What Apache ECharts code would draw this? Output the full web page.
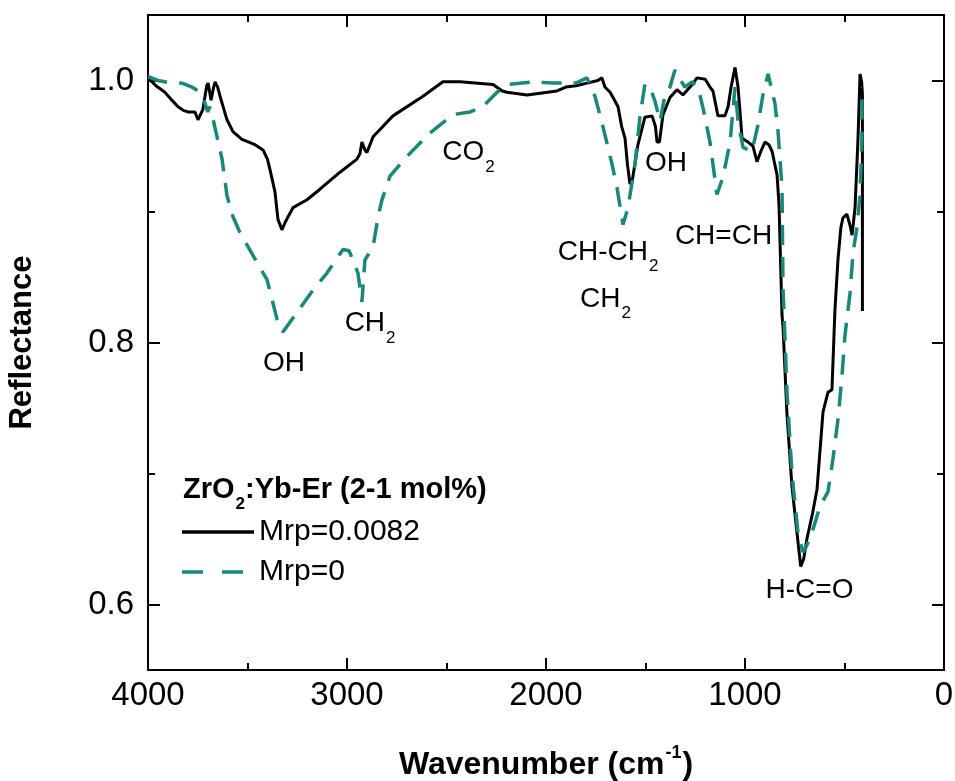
<!DOCTYPE html>
<html>
<head>
<meta charset="utf-8">
<title>ZrO2:Yb-Er reflectance spectra</title>
<script src="https://cdn.jsdelivr.net/npm/echarts@6/dist/echarts.min.js"></script>
<style>
  html, body { margin: 0; padding: 0; background: #ffffff; }
  #chart { width: 955px; height: 781px; }
</style>
</head>
<body>
<div id="chart"></div>
<script>
// Wavenumber (cm-1) and reflectance for the sample with Mrp = 0.0082
const wnMrp0082 = [4000, 3960, 3915, 3880, 3849, 3820, 3799, 3764, 3749, 3724, 3705, 3698, 3683, 3670, 3663, 3650, 3638, 3603, 3573, 3528, 3462, 3422, 3400, 3387, 3362, 3347, 3327, 3310, 3271, 3201, 3136, 3035, 2950, 2935, 2925, 2910, 2900, 2869, 2769, 2618, 2518, 2432, 2266, 2220, 2196, 2095, 1945, 1900, 1850, 1794, 1740, 1719, 1704, 1678, 1663, 1638, 1620, 1603, 1590, 1578, 1565, 1538, 1503, 1467, 1450, 1442, 1430, 1412, 1377, 1342, 1312, 1276, 1241, 1200, 1176, 1161, 1136, 1101, 1085, 1070, 1050, 1035, 1025, 1015, 985, 960, 940, 920, 900, 880, 864, 839, 829, 814, 809, 789, 764, 739, 720, 705, 689, 660, 638, 608, 583, 563, 548, 533, 518, 508, 488, 470, 462, 447, 432, 422, 414, 410, 410];
const refMrp0082 = [1.002, 0.996, 0.991, 0.985, 0.980, 0.977, 0.976, 0.976, 0.970, 0.978, 0.996, 0.998, 0.985, 0.995, 0.999, 0.995, 0.988, 0.970, 0.961, 0.955, 0.951, 0.947, 0.940, 0.932, 0.915, 0.894, 0.886, 0.892, 0.903, 0.909, 0.917, 0.930, 0.940, 0.944, 0.953, 0.947, 0.945, 0.957, 0.973, 0.988, 0.999, 0.999, 0.997, 0.992, 0.991, 0.989, 0.992, 0.995, 0.996, 0.998, 1.000, 1.002, 0.995, 0.991, 0.987, 0.980, 0.965, 0.956, 0.935, 0.921, 0.925, 0.951, 0.972, 0.973, 0.965, 0.953, 0.953, 0.974, 0.987, 0.993, 0.989, 0.995, 1.002, 1.001, 0.995, 0.992, 0.973, 0.973, 0.980, 0.995, 1.010, 0.995, 0.976, 0.956, 0.953, 0.950, 0.938, 0.946, 0.953, 0.951, 0.946, 0.928, 0.905, 0.821, 0.812, 0.745, 0.690, 0.655, 0.629, 0.635, 0.650, 0.670, 0.688, 0.747, 0.762, 0.764, 0.825, 0.863, 0.888, 0.895, 0.898, 0.888, 0.882, 0.903, 0.956, 1.005, 0.999, 0.990, 0.824];

// Wavenumber (cm-1) and reflectance for the sample with Mrp = 0
const wnMrp0 = [4000, 3950, 3915, 3829, 3779, 3739, 3714, 3700, 3690, 3680, 3653, 3628, 3603, 3573, 3538, 3452, 3402, 3352, 3322, 3261, 3171, 3101, 3020, 2990, 2970, 2945, 2925, 2910, 2869, 2844, 2824, 2784, 2699, 2583, 2467, 2382, 2317, 2246, 2196, 2065, 1965, 1850, 1794, 1754, 1714, 1668, 1643, 1613, 1588, 1553, 1528, 1503, 1477, 1452, 1427, 1402, 1377, 1352, 1327, 1302, 1266, 1236, 1211, 1176, 1161, 1141, 1111, 1075, 1050, 1035, 1010, 965, 935, 910, 884, 849, 834, 814, 809, 789, 764, 734, 709, 690, 663, 623, 583, 558, 533, 513, 498, 472, 457, 437, 422, 412, 412];
const refMrp0 = [1.003, 1.000, 0.999, 0.998, 0.995, 0.991, 0.983, 0.976, 0.980, 0.975, 0.957, 0.940, 0.912, 0.896, 0.884, 0.861, 0.848, 0.818, 0.808, 0.821, 0.840, 0.853, 0.871, 0.870, 0.863, 0.853, 0.831, 0.863, 0.873, 0.896, 0.909, 0.927, 0.942, 0.960, 0.974, 0.976, 0.980, 0.991, 0.997, 0.999, 0.998, 0.998, 1.002, 0.988, 0.965, 0.936, 0.918, 0.890, 0.903, 0.936, 0.972, 0.997, 0.995, 0.984, 0.969, 0.989, 0.995, 1.008, 1.001, 0.995, 0.999, 0.995, 0.979, 0.953, 0.936, 0.913, 0.926, 0.953, 0.995, 0.969, 0.949, 0.946, 0.966, 0.989, 1.005, 0.982, 0.961, 0.918, 0.842, 0.762, 0.700, 0.655, 0.640, 0.645, 0.655, 0.675, 0.686, 0.711, 0.741, 0.774, 0.805, 0.838, 0.869, 0.888, 0.913, 0.956, 0.995];

// Band assignments written on the spectra
const bandText = ['OH', '{t|CH}{s|2}', '{t|CO}{s|2}', '{t|CH-CH}{s|2}', '{t|CH}{s|2}', 'OH', 'CH=CH', 'H-C=O'];
const bandWn = [3317, 2884, 2389, 1688, 1701, 1397, 1108, 676];
const bandRef = [0.784, 0.8145, 0.945, 0.869, 0.833, 0.937, 0.881, 0.611];

// Axis ranges and ticks
const xMin = 0, xMax = 4000;
const xMajor = [0, 1000, 2000, 3000, 4000];
const xMinor = [500, 1500, 2500, 3500];
const yMin = 0.55, yMax = 1.05;
const yMajor = [0.6, 0.8, 1.0];
const yMinor = [0.7, 0.9];

const seriesNames = ['Mrp=0.0082', 'Mrp=0'];
const sampleTitle = '{b|ZrO}{s|2}{b|:Yb-Er (2-1 mol%)}';

const FONT = '"Liberation Sans", Arial, Helvetica, sans-serif';
const TEAL = '#17897b';

const zip = (xs, ys) => xs.map((x, i) => [x, ys[i]]);

// Rich text with a lowered subscript: padding keeps the subscript below the main baseline
const subRich = (size, weight) => ({
  t: { fontSize: size, fontWeight: weight, fontFamily: FONT, color: '#000', lineHeight: 28, padding: [9, 0, 9, 0] },
  b: { fontSize: size, fontWeight: weight, fontFamily: FONT, color: '#000', lineHeight: 28, padding: [9, 0, 9, 0] },
  s: { fontSize: 17, fontWeight: weight, fontFamily: FONT, color: '#000', lineHeight: 17, padding: [29, 0, 0, 1] }
});

const chart = echarts.init(document.getElementById('chart'), null, { renderer: 'canvas' });

const axisLineStyle = { color: '#000', width: 2 };

// Wavenumber axis: runs from 4000 down to 0 and carries the labels and the title
const xMain = {
  type: 'value', min: xMin, max: xMax, inverse: true, position: 'bottom',
  axisLine: { show: true, onZero: false, lineStyle: axisLineStyle },
  axisTick: { show: false },
  axisLabel: {
    show: true, customValues: xMajor, fontSize: 33, color: '#000', fontFamily: FONT, margin: 9,
    formatter: v => String(v)
  },
  splitLine: { show: false },
  name: '{b|Wavenumber (cm}{u|-1}{b|)}',
  nameLocation: 'middle',
  nameGap: 80,
  nameTextStyle: {
    rich: {
      b: { fontSize: 32, fontWeight: 'bold', fontFamily: FONT, color: '#000', lineHeight: 32, padding: [5, 0, 6, 0] },
      u: { fontSize: 18, fontWeight: 'bold', fontFamily: FONT, color: '#000', lineHeight: 18, padding: [0, 1, 25, 1] }
    }
  }
};

// Upper edge of the frame
const xTop = {
  type: 'value', min: xMin, max: xMax, inverse: true, position: 'top',
  axisLine: { show: true, onZero: false, lineStyle: axisLineStyle },
  axisTick: { show: false },
  axisLabel: { show: false },
  splitLine: { show: false }
};

const yAxisDef = (position, ticks, len, withLabels) => {
  const a = {
    type: 'value', min: yMin, max: yMax, position,
    axisLine: { show: true, onZero: false, lineStyle: axisLineStyle },
    axisTick: { show: true, inside: true, length: len, lineStyle: axisLineStyle, customValues: ticks },
    axisLabel: { show: false },
    splitLine: { show: false }
  };
  if (withLabels) {
    a.axisLabel = {
      show: true, customValues: yMajor, fontSize: 33, color: '#000', fontFamily: FONT, margin: 14,
      formatter: v => v.toFixed(1)
    };
    a.name = 'Reflectance';
    a.nameLocation = 'middle';
    a.nameGap = 110;
    a.nameTextStyle = { fontSize: 31, fontWeight: 'bold', fontFamily: FONT, color: '#000' };
  }
  return a;
};

// Inward tick marks on the bottom and top edges, placed through the wavenumber scale
const renderFrameTick = (params, api) => {
  const v = api.value(0);
  const len = xMajor.indexOf(v) >= 0 ? 12 : 7;
  const x = Math.round(api.coord([v, yMin])[0]);
  const yBottom = api.coord([v, yMin])[1];
  const yTop = api.coord([v, yMax])[1];
  const style = { stroke: '#000', lineWidth: 2, fill: null };
  return {
    type: 'group',
    children: [
      { type: 'line', shape: { x1: x, y1: yBottom, x2: x, y2: yBottom - len }, style },
      { type: 'line', shape: { x1: x, y1: yTop, x2: x, y2: yTop + len }, style }
    ]
  };
};

const option = {
  backgroundColor: '#ffffff',
  animation: false,
  grid: { left: 148, right: 11, top: 15, bottom: 111, containLabel: false, outerBoundsMode: 'none' },
  xAxis: [xMain, xTop],
  yAxis: [
    yAxisDef('left', yMajor, 12, true),
    yAxisDef('left', yMinor, 7, false),
    yAxisDef('right', yMajor, 12, false),
    yAxisDef('right', yMinor, 7, false)
  ],
  legend: {
    data: [
      { name: seriesNames[0], icon: 'path://M0,0H72V3H0Z' },
      { name: seriesNames[1], icon: 'path://M0,0H21V3.4H0Z M40,0H61V3.4H40Z M72,0L72,3.4' }
    ],
    orient: 'vertical',
    left: 182,
    top: 517,
    itemWidth: 72,
    itemHeight: 3.4,
    itemGap: 10,
    padding: 0,
    symbolKeepAspect: false,
    textStyle: { fontSize: 30, color: '#000', fontFamily: FONT, lineHeight: 30 }
  },
  graphic: [
    {
      type: 'text',
      left: 183,
      top: 466,
      style: { text: sampleTitle, rich: subRich(29, 'bold') }
    }
  ],
  series: [
    {
      name: seriesNames[0],
      type: 'line',
      xAxisIndex: 0,
      yAxisIndex: 0,
      data: zip(wnMrp0082, refMrp0082),
      symbol: 'none',
      lineStyle: { color: '#000', width: 3 },
      itemStyle: { color: '#000' },
      z: 2
    },
    {
      name: seriesNames[1],
      type: 'line',
      xAxisIndex: 0,
      yAxisIndex: 0,
      data: zip(wnMrp0, refMrp0),
      symbol: 'none',
      lineStyle: { color: TEAL, width: 3.5, type: [20, 12] },
      itemStyle: { color: TEAL },
      z: 3
    },
    {
      name: 'bands',
      type: 'scatter',
      xAxisIndex: 0,
      yAxisIndex: 0,
      data: bandWn.map((w, i) => [w, bandRef[i], bandText[i]]),
      symbolSize: 0,
      silent: true,
      z: 4,
      itemStyle: { color: 'transparent', opacity: 1 },
      label: {
        show: true,
        position: 'inside',
        formatter: p => p.data[2],
        fontSize: 28,
        fontFamily: FONT,
        color: '#000',
        opacity: 1,
        textBorderWidth: 0,
        textBorderColor: 'transparent',
        rich: subRich(28, 'normal')
      }
    },
    {
      name: 'frame ticks',
      type: 'custom',
      xAxisIndex: 0,
      yAxisIndex: 0,
      silent: true,
      z: 1,
      clip: false,
      data: xMajor.concat(xMinor).map(v => [v, yMin]),
      renderItem: renderFrameTick
    }
  ]
};

chart.setOption(option);
</script>
</body>
</html>
